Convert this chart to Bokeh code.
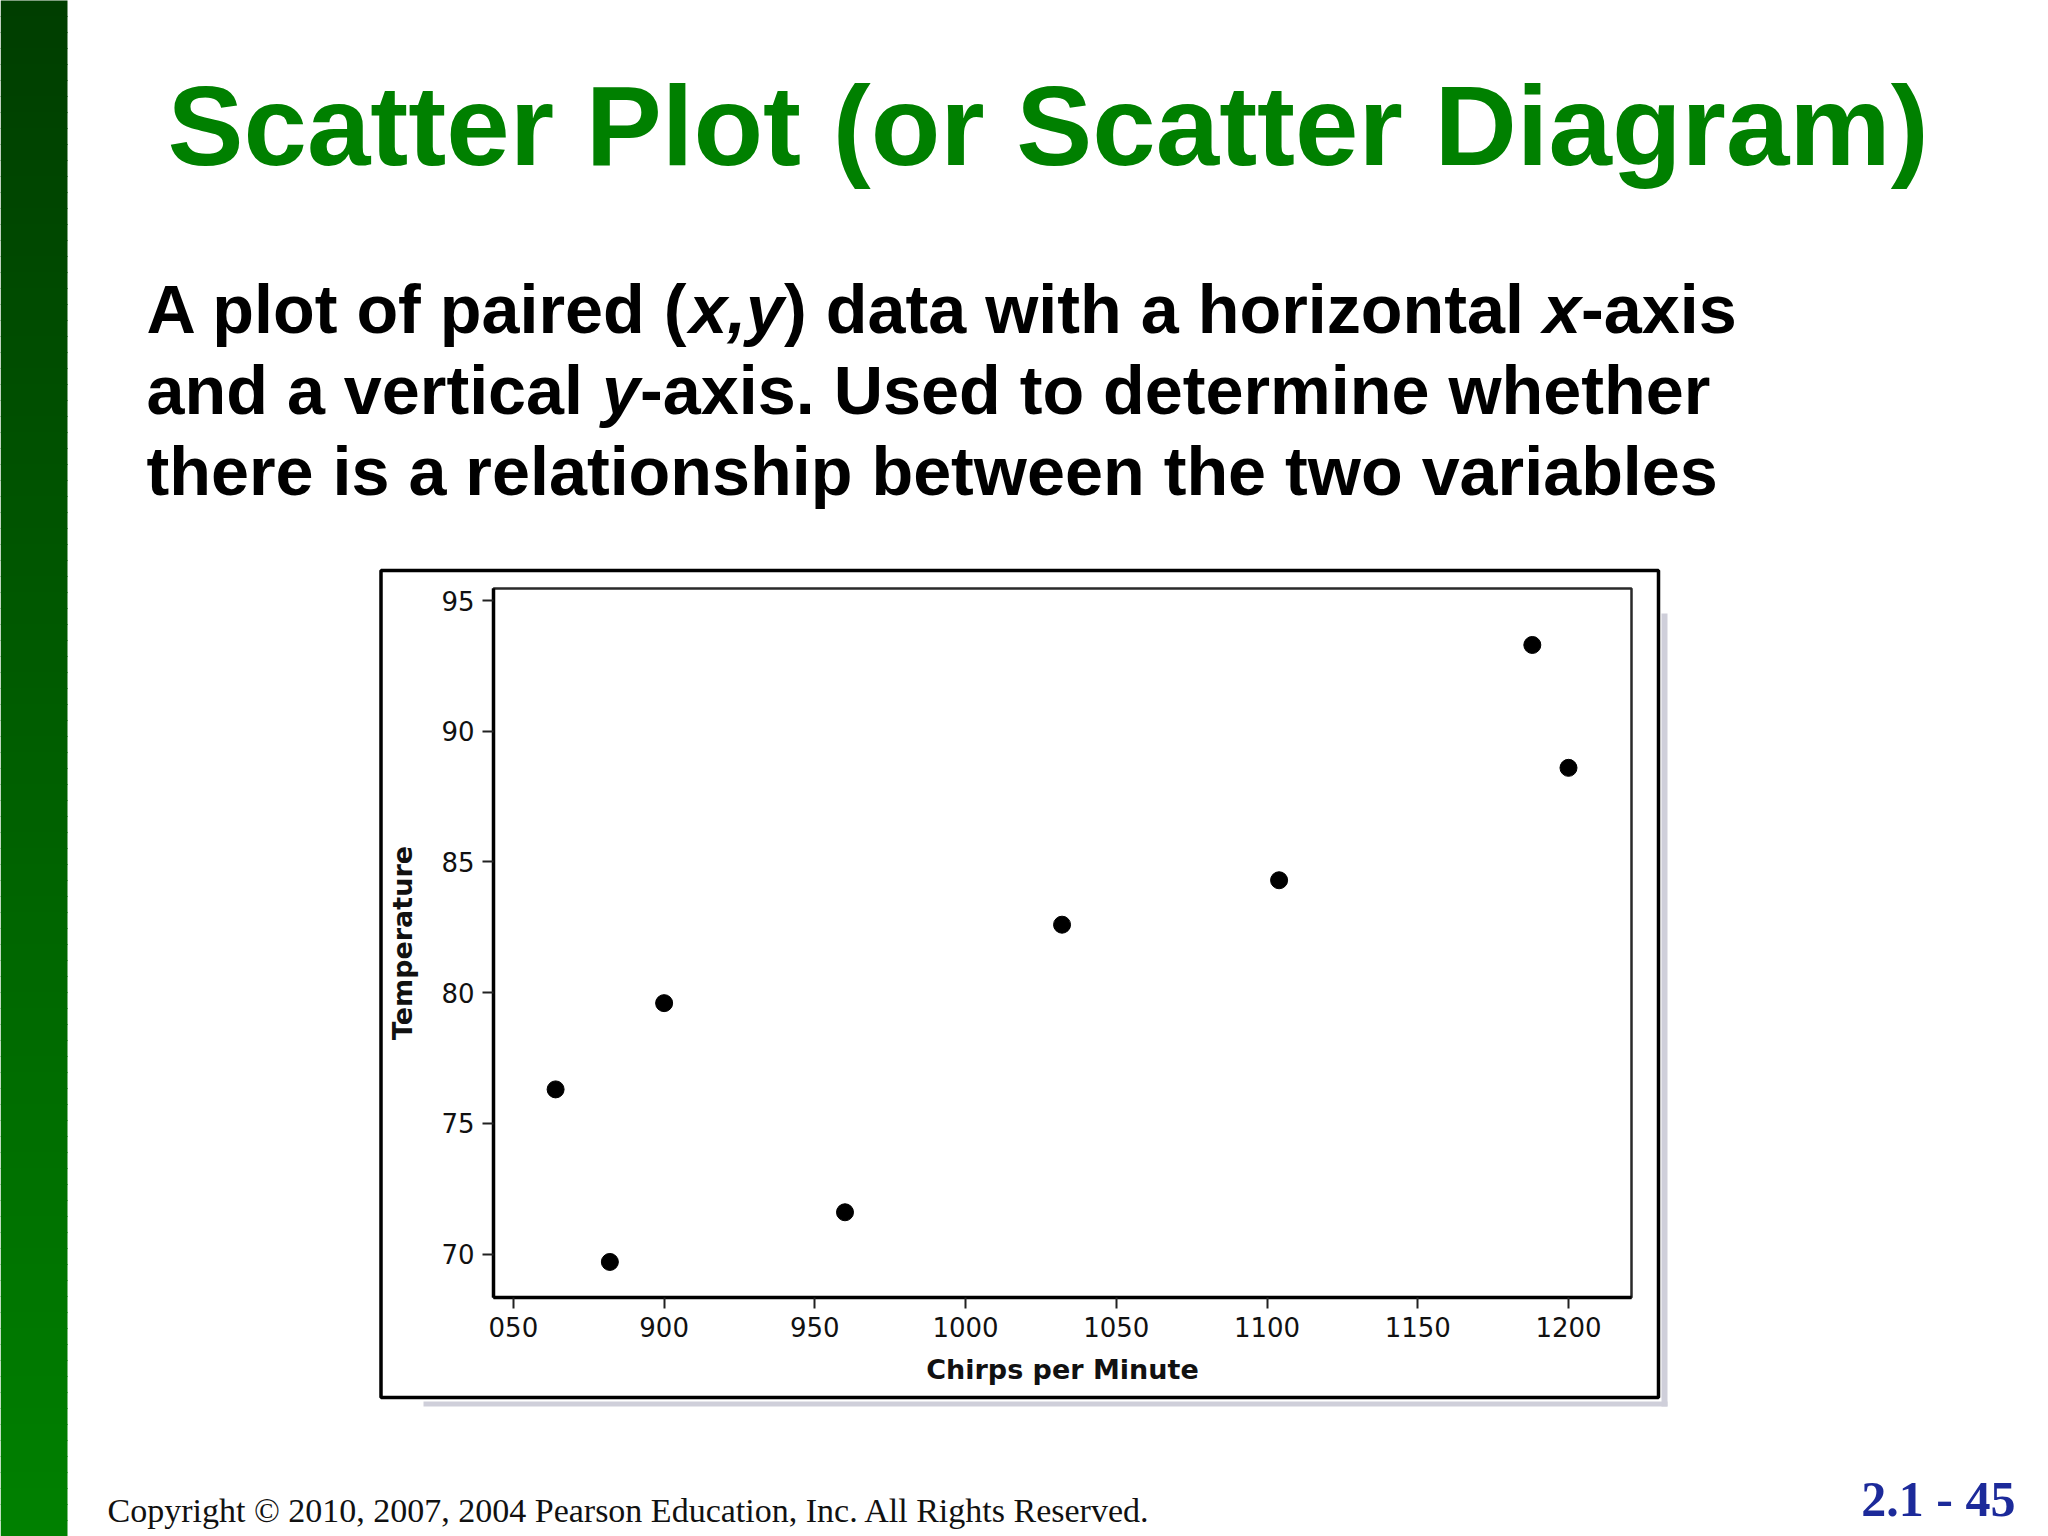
from bokeh.plotting import figure
from bokeh.models import Range1d, FixedTicker
from bokeh.core.properties import value
from bokeh.embed import file_html
from bokeh.resources import INLINE

# ---------------- data ----------------
chirps = [882, 1188, 1104, 864, 1200, 1032, 960, 900]
temps = [69.7, 93.3, 84.3, 76.3, 88.6, 82.6, 71.6, 79.6]
x_ticks = [850, 900, 950, 1000, 1050, 1100, 1150, 1200]
x_tick_labels = ["050", "900", "950", "1000", "1050", "1100", "1150", "1200"]
y_ticks = [70, 75, 80, 85, 90, 95]
x_label = "Chirps per Minute"
y_label = "Temperature"
x_lim = (843.4, 1220.9)
y_lim = (68.34, 95.46)
title_text = "Scatter Plot (or Scatter Diagram)"
body_lines = [
    [("A plot of paired (", False), ("x,y", True), (") data with a horizontal ", False), ("x", True), ("-axis", False)],
    [("and a vertical ", False), ("y", True), ("-axis. Used to determine whether", False)],
    [("there is a relationship between the two variables", False)],
]
footer_text = "Copyright \u00a9 2010, 2007, 2004 Pearson Education, Inc. All Rights Reserved."
slide_number = "2.1 - 45"

# ---------------- layout (page pixels) ----------------
W, H = 2048, 1536
PL, PR, PT, PB = 493, 1631, 588, 1297  # chart frame on the page
BASE_FIX = 0.33  # baseline correction (em) for text glyphs

kx = (PR - PL) / (x_lim[1] - x_lim[0])
ky = (PB - PT) / (y_lim[1] - y_lim[0])
x_range = Range1d(x_lim[0] - PL / kx, x_lim[1] + (W - PR) / kx)
y_range = Range1d(y_lim[0] - (H - PB) / ky, y_lim[1] + PT / ky)

# Arial/Liberation Sans Bold advance widths (per 1000 em)
AW = {" ": 278, "A": 722, "U": 722, "(": 333, ")": 333, ",": 278, "-": 333, ".": 278,
      "a": 556, "b": 611, "c": 556, "d": 611, "e": 556, "f": 333, "h": 611, "i": 278,
      "l": 278, "m": 889, "n": 611, "o": 611, "p": 611, "r": 389, "s": 556, "t": 333,
      "v": 556, "w": 778, "x": 556, "y": 556, "z": 500}


def text_w(s, size):
    return sum(AW.get(ch, 556) for ch in s) * size / 1000.0


def base(y, size):
    return y - BASE_FIX * size


p = figure(width=W, height=H, output_backend="svg", toolbar_location=None,
           x_range=x_range, y_range=y_range,
           min_border_left=0, min_border_right=0, min_border_top=0, min_border_bottom=0)
p.extra_x_ranges = {"px": Range1d(0, W)}
p.extra_y_ranges = {"py": Range1d(H, 0)}
p.background_fill_color = "white"
p.border_fill_color = "white"
p.outline_line_color = None
p.grid.visible = False

PX = dict(x_range_name="px", y_range_name="py")

# ---------------- green side bar (gradient) ----------------
n = 96
step = H / n
lefts, rights, tops, bottoms, cols = [], [], [], [], []
for i in range(n):
    t = i / (n - 1)
    g = int(round(62 + (128 - 62) * t))
    lefts.append(0)
    rights.append(67)
    tops.append(i * step - 0.5)
    bottoms.append((i + 1) * step + 0.5)
    cols.append("#00%02x00" % g)
p.quad(left=lefts, right=rights, top=tops, bottom=bottoms, fill_color=cols,
       line_color=None, **PX)

# ---------------- outer box with shadow ----------------
p.quad(left=[1661, 423], right=[1667, 1667], top=[613, 1401], bottom=[1406, 1406],
       fill_color="#cfcfda", line_color=None, **PX)
p.quad(left=[380.5], right=[1658], top=[570], bottom=[1397],
       fill_color=None, line_color="black", line_width=3.5, **PX)

# inner chart frame
p.quad(left=[x_lim[0]], right=[x_lim[1]], bottom=[y_lim[0]], top=[y_lim[1]],
       fill_color="white", line_color="#2a2a2a", line_width=2.5)

# ---------------- data points ----------------
p.scatter(chirps, temps, size=17, color="black")

# ---------------- axes ----------------
p.xaxis.fixed_location = y_lim[0]
p.yaxis.fixed_location = x_lim[0]
p.xaxis.bounds = x_lim
p.yaxis.bounds = y_lim
p.xaxis.ticker = FixedTicker(ticks=x_ticks)
p.xaxis.major_label_overrides = {t: l for t, l in zip(x_ticks, x_tick_labels)}
p.yaxis.ticker = FixedTicker(ticks=y_ticks)
p.xaxis.axis_label = x_label
p.yaxis.axis_label = y_label
for ax in (p.xaxis, p.yaxis):
    ax.axis_line_color = "black"
    ax.axis_line_width = 3.5
    ax.major_tick_out = 11
    ax.major_tick_in = 0
    ax.major_tick_line_width = 2
    ax.major_tick_line_color = "#222222"
    ax.minor_tick_out = 0
    ax.minor_tick_in = 0
    ax.major_label_text_font = "DejaVu Sans"
    ax.major_label_text_font_size = "26px"
    ax.major_label_text_color = "#111111"
    ax.axis_label_text_font = "DejaVu Sans"
    ax.axis_label_text_font_size = "27px"
    ax.axis_label_text_font_style = "bold"
    ax.axis_label_text_color = "#111111"
p.xaxis.major_label_standoff = 8
p.yaxis.major_label_standoff = 8
p.xaxis.axis_label_standoff = 14
p.yaxis.axis_label_standoff = 20

# ---------------- texts ----------------
TITLE_SIZE = 114
p.text(x=[167], y=[base(163, TITLE_SIZE)], text=[title_text], text_font=value("Liberation Sans"),
       text_font_style="bold", text_font_size=value("%dpx" % TITLE_SIZE), text_color="#008000",
       text_align="left", text_baseline="alphabetic", **PX)

BODY_SIZE = 68.3
baselines = [331, 412, 493]
norm = {"x": [], "y": [], "text": []}
ital = {"x": [], "y": [], "text": []}
for segs, b in zip(body_lines, baselines):
    x = 146
    for s, it in segs:
        d = ital if it else norm
        d["x"].append(x)
        d["y"].append(base(b, BODY_SIZE))
        d["text"].append(s)
        x += text_w(s, BODY_SIZE)
p.text(x=norm["x"], y=norm["y"], text=norm["text"], text_font=value("Liberation Sans"),
       text_font_style="bold", text_font_size=value("%.1fpx" % BODY_SIZE), text_color="black",
       text_align="left", text_baseline="alphabetic", **PX)
p.text(x=ital["x"], y=ital["y"], text=ital["text"], text_font=value("Liberation Sans"),
       text_font_style="bold italic", text_font_size=value("%.1fpx" % BODY_SIZE), text_color="black",
       text_align="left", text_baseline="alphabetic", **PX)

FOOT_SIZE = 34
p.text(x=[107], y=[base(1521, FOOT_SIZE)], text=[footer_text], text_font=value("Liberation Serif"),
       text_font_size=value("%dpx" % FOOT_SIZE), text_color="#111111",
       text_align="left", text_baseline="alphabetic", **PX)
NUM_SIZE = 50
p.text(x=[2015], y=[base(1515, NUM_SIZE)], text=[slide_number], text_font=value("Liberation Serif"),
       text_font_style="bold", text_font_size=value("%dpx" % NUM_SIZE), text_color="#1c2a9a",
       text_align="right", text_baseline="alphabetic", **PX)

open("out.html", "w").write(file_html(p, INLINE))
